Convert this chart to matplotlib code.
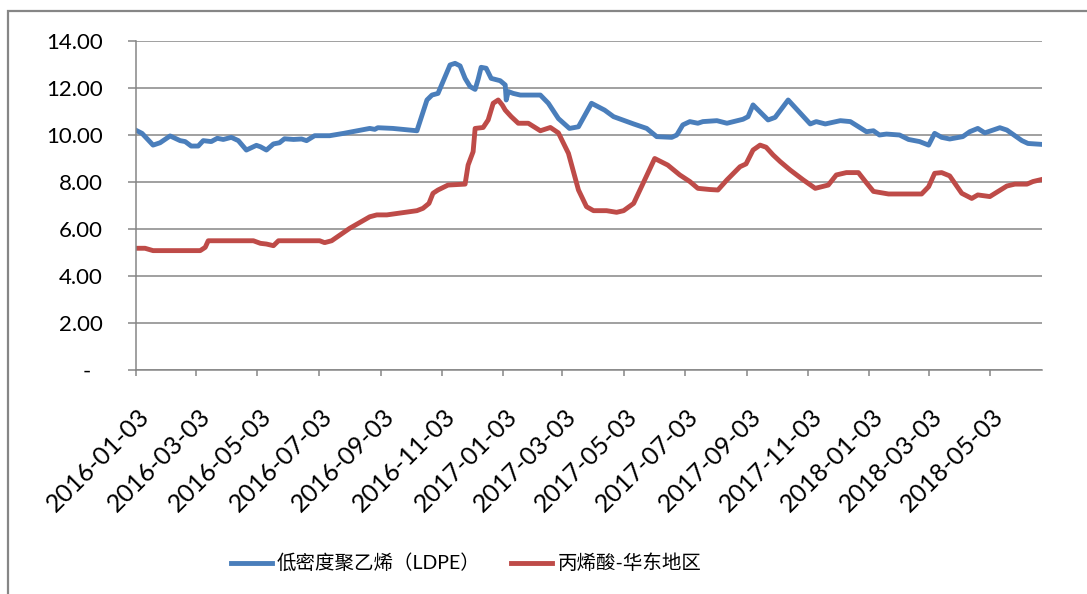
import numpy as np
import pandas as pd
import matplotlib
matplotlib.use("Agg")
import matplotlib.pyplot as plt
import matplotlib.transforms as mtransforms
from matplotlib.patches import Rectangle

plt.rcParams['font.family'] = ['Lato', 'Noto Sans CJK SC', 'DejaVu Sans']

# ------------------- Datos -------------------
ldpe_fechas = [
    "2016-01-03", "2016-01-09", "2016-01-20", "2016-01-27", "2016-02-06", "2016-02-16",
    "2016-02-21", "2016-02-27", "2016-03-05", "2016-03-10", "2016-03-18", "2016-03-24",
    "2016-03-30", "2016-04-07", "2016-04-14", "2016-04-22", "2016-05-02", "2016-05-06",
    "2016-05-12", "2016-05-19", "2016-05-25", "2016-05-30", "2016-06-08", "2016-06-16",
    "2016-06-21", "2016-06-29", "2016-07-14", "2016-07-28", "2016-08-23", "2016-08-28",
    "2016-08-31", "2016-09-15", "2016-10-09", "2016-10-19", "2016-10-24", "2016-10-30",
    "2016-11-11", "2016-11-16", "2016-11-21", "2016-11-26", "2016-12-01", "2016-12-06",
    "2016-12-09", "2016-12-12", "2016-12-17", "2016-12-22", "2016-12-31", "2017-01-05",
    "2017-01-06", "2017-01-08", "2017-01-13", "2017-01-20", "2017-02-09", "2017-02-17",
    "2017-02-27", "2017-03-10", "2017-03-19", "2017-04-01", "2017-04-14", "2017-04-23",
    "2017-05-13", "2017-05-26", "2017-06-05", "2017-06-20", "2017-06-25", "2017-07-01",
    "2017-07-08", "2017-07-16", "2017-07-21", "2017-08-04", "2017-08-14", "2017-08-30",
    "2017-09-04", "2017-09-09", "2017-09-24", "2017-10-01", "2017-10-14", "2017-11-05",
    "2017-11-11", "2017-11-20", "2017-12-05", "2017-12-15", "2017-12-31", "2018-01-07",
    "2018-01-13", "2018-01-20", "2018-02-02", "2018-02-11", "2018-02-22", "2018-03-03",
    "2018-03-09", "2018-03-16", "2018-03-24", "2018-04-06", "2018-04-13", "2018-04-21",
    "2018-04-28", "2018-05-13", "2018-05-20", "2018-06-04", "2018-06-10", "2018-06-24",
]
ldpe_valores = [
    10.20, 10.07, 9.57, 9.67, 9.96, 9.76,
    9.72, 9.53, 9.53, 9.76, 9.72, 9.86,
    9.81, 9.90, 9.76, 9.36, 9.56, 9.50,
    9.36, 9.62, 9.67, 9.84, 9.81, 9.83,
    9.76, 9.97, 9.97, 10.07, 10.28, 10.24,
    10.31, 10.28, 10.18, 11.49, 11.70, 11.77,
    12.98, 13.05, 12.94, 12.41, 12.06, 11.94,
    12.37, 12.88, 12.84, 12.41, 12.31, 12.13,
    11.49, 11.85, 11.77, 11.70, 11.70, 11.35,
    10.70, 10.28, 10.35, 11.35, 11.06, 10.78,
    10.47, 10.28, 9.93, 9.90, 10.00, 10.43,
    10.57, 10.50, 10.57, 10.61, 10.50, 10.67,
    10.78, 11.28, 10.64, 10.75, 11.49, 10.47,
    10.57, 10.47, 10.61, 10.57, 10.14, 10.18,
    10.00, 10.04, 10.00, 9.81, 9.72, 9.57,
    10.07, 9.90, 9.83, 9.93, 10.14, 10.28,
    10.09, 10.31, 10.21, 9.76, 9.64, 9.60,
]

acido_fechas = [
    "2016-01-03", "2016-01-12", "2016-01-20", "2016-03-07", "2016-03-12", "2016-03-15",
    "2016-04-29", "2016-05-06", "2016-05-12", "2016-05-19", "2016-05-24", "2016-07-04",
    "2016-07-09", "2016-07-16", "2016-08-03", "2016-08-23", "2016-08-30", "2016-09-09",
    "2016-10-09", "2016-10-15", "2016-10-21", "2016-10-25", "2016-10-30", "2016-11-09",
    "2016-11-26", "2016-11-29", "2016-12-04", "2016-12-06", "2016-12-14", "2016-12-19",
    "2016-12-24", "2016-12-29", "2017-01-02", "2017-01-05", "2017-01-11", "2017-01-18",
    "2017-01-28", "2017-02-09", "2017-02-19", "2017-02-27", "2017-03-09", "2017-03-19",
    "2017-03-27", "2017-04-03", "2017-04-16", "2017-04-26", "2017-05-03", "2017-05-13",
    "2017-05-24", "2017-06-03", "2017-06-16", "2017-06-28", "2017-07-08", "2017-07-16",
    "2017-07-28", "2017-08-05", "2017-08-14", "2017-08-27", "2017-09-02", "2017-09-09",
    "2017-09-16", "2017-09-22", "2017-09-29", "2017-10-06", "2017-10-16", "2017-10-29",
    "2017-11-10", "2017-11-23", "2017-12-01", "2017-12-11", "2017-12-23", "2017-12-30",
    "2018-01-07", "2018-01-22", "2018-02-24", "2018-03-03", "2018-03-09", "2018-03-16",
    "2018-03-24", "2018-04-05", "2018-04-15", "2018-04-21", "2018-05-03", "2018-05-20",
    "2018-05-28", "2018-06-09", "2018-06-15", "2018-06-24",
]
acido_valores = [
    5.18, 5.18, 5.08, 5.08, 5.22, 5.50,
    5.50, 5.39, 5.36, 5.29, 5.50, 5.50,
    5.42, 5.50, 6.03, 6.52, 6.60, 6.60,
    6.78, 6.88, 7.09, 7.52, 7.66, 7.87,
    7.91, 8.72, 9.29, 10.28, 10.32, 10.64,
    11.35, 11.49, 11.28, 11.06, 10.78, 10.50,
    10.50, 10.18, 10.32, 10.09, 9.22, 7.66,
    6.95, 6.78, 6.78, 6.71, 6.78, 7.09,
    8.09, 9.00, 8.72, 8.30, 8.02, 7.73,
    7.68, 7.66, 8.09, 8.65, 8.77, 9.36,
    9.57, 9.48, 9.15, 8.87, 8.51, 8.09,
    7.73, 7.87, 8.30, 8.40, 8.40, 8.02,
    7.60, 7.49, 7.49, 7.80, 8.37, 8.40,
    8.26, 7.52, 7.30, 7.45, 7.38, 7.83,
    7.91, 7.91, 8.02, 8.11,
]

etiquetas_x = [
    "2016-01-03", "2016-03-03", "2016-05-03", "2016-07-03", "2016-09-03",
    "2016-11-03", "2017-01-03", "2017-03-03", "2017-05-03", "2017-07-03",
    "2017-09-03", "2017-11-03", "2018-01-03", "2018-03-03", "2018-05-03",
]
valores_y = [0, 2, 4, 6, 8, 10, 12, 14]

nombre_ldpe = "低密度聚乙烯（LDPE）"
nombre_acido = "丙烯酸-华东地区"

# ------------------- Figura -------------------
W, H = 1087, 594
fig = plt.figure(figsize=(W / 100, H / 100), dpi=100)
gris = "#868686"

# marco exterior
fig.patches.append(Rectangle((8 / W, -0.1), 1.2, (H - 11) / H + 0.1,
                             transform=fig.transFigure, fill=False,
                             edgecolor=gris, linewidth=1.6))

ax = fig.add_axes([136 / W, 1 - 370 / H, 906 / W, 329 / H])

ax.plot(pd.to_datetime(ldpe_fechas), ldpe_valores, color="#4A7EBB", lw=3.5,
        solid_joinstyle="round", label=nombre_ldpe)
ax.plot(pd.to_datetime(acido_fechas), acido_valores, color="#BE4B48", lw=3.5,
        solid_joinstyle="round", label=nombre_acido)

ax.set_xlim(pd.Timestamp("2016-01-03"), pd.Timestamp("2018-06-24"))
ax.set_ylim(0, 14)

ax.set_yticks(valores_y)
ax.set_yticklabels(["-  " if v == 0 else f"{v:.2f}" for v in valores_y])
ax.grid(axis="y", color=gris, lw=1.1)
ax.set_axisbelow(True)

ax.set_xticks(pd.to_datetime(etiquetas_x))
ax.set_xticklabels(etiquetas_x, rotation=45, ha="right", va="center",
                   rotation_mode="anchor")

for s in ["top", "right"]:
    ax.spines[s].set_visible(False)
for s in ["left", "bottom"]:
    ax.spines[s].set_color(gris)
    ax.spines[s].set_linewidth(1.1)

ax.tick_params(axis="y", length=6, width=1.1, color=gris, pad=18, labelsize=16)
ax.tick_params(axis="x", length=4.5, width=1.1, color=gris, pad=26, labelsize=18)

desplaza = mtransforms.ScaledTranslation(10 / 100, 0, fig.dpi_scale_trans)
for lab in ax.get_xticklabels():
    lab.set_transform(lab.get_transform() + desplaza)

fig.legend(loc="center", bbox_to_anchor=(466 / W, 1 - 563 / H), ncol=2,
           frameon=False, fontsize=14, handlelength=2.1, handletextpad=0.25,
           columnspacing=1.6)

fig.savefig("out.png", dpi=100)
